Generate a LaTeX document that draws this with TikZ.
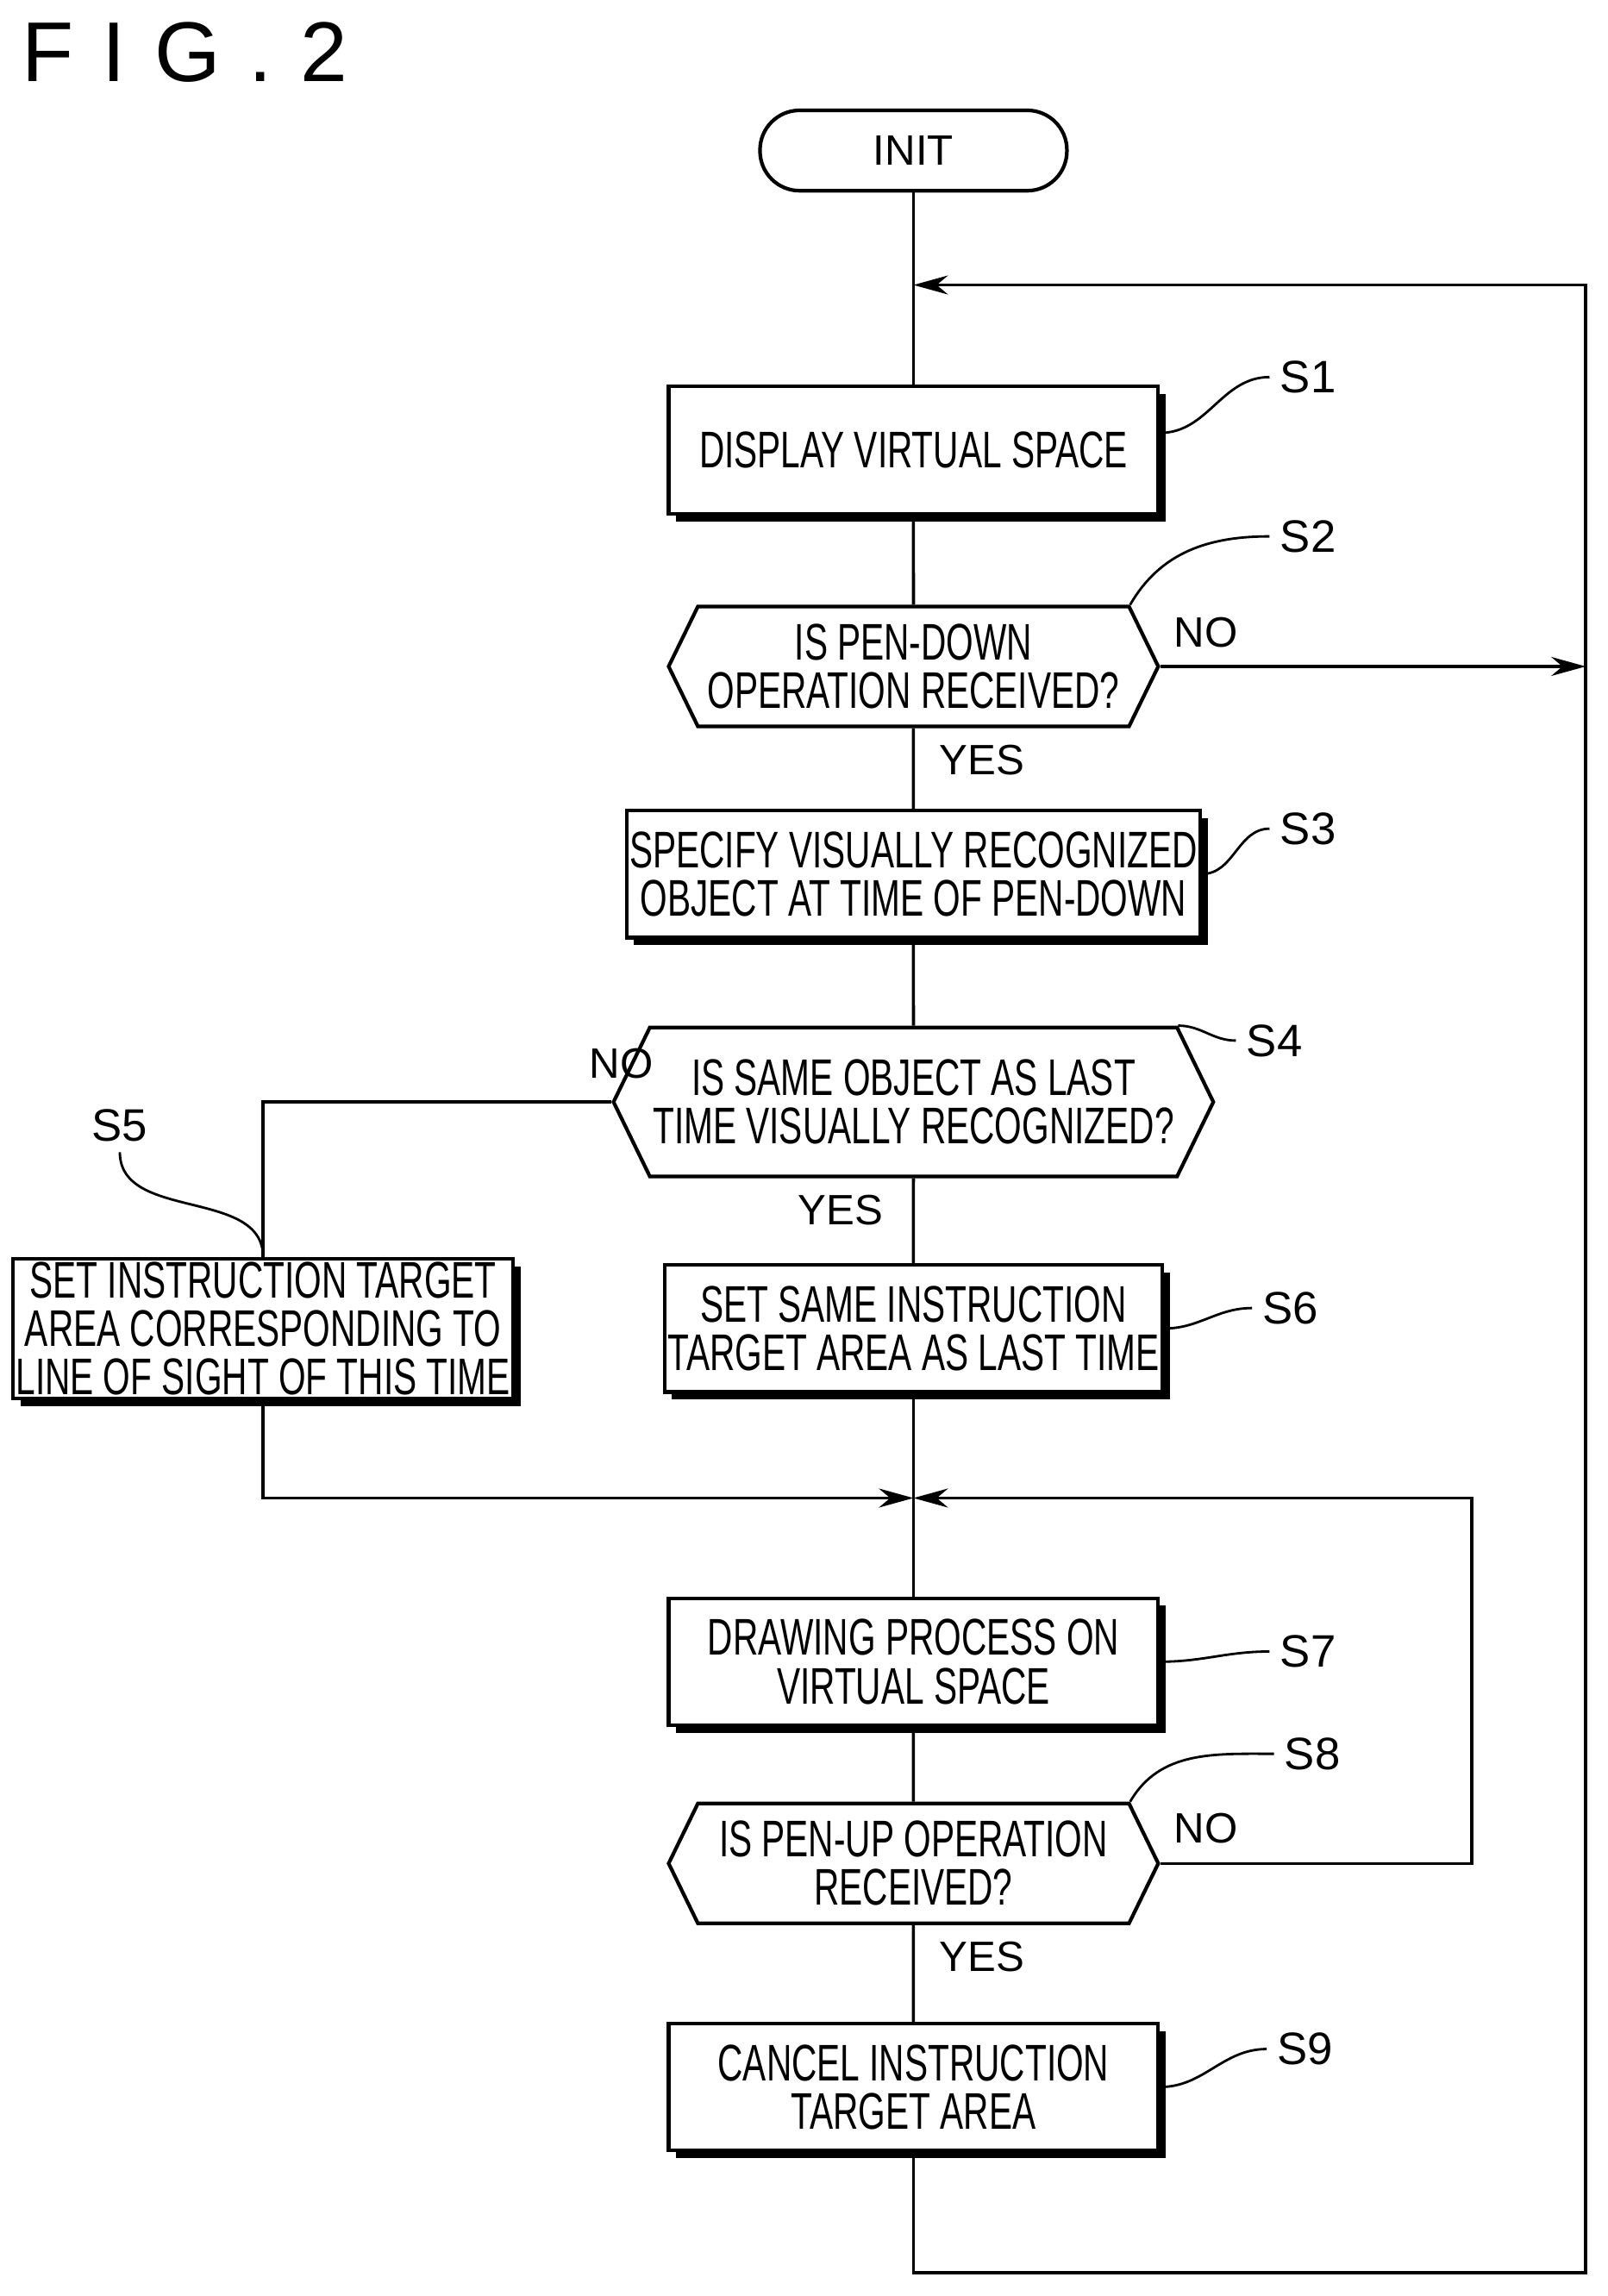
\documentclass[tikz,border=0pt]{standalone}
\usepackage{fontspec}
\setmainfont{Liberation Sans}
\newfontfamily\condfont[FakeStretch=0.68]{Liberation Sans}
\usetikzlibrary{arrows.meta,positioning,shapes.geometric,shapes.symbols,shadows}

\tikzset{
    stepbox/.style={rectangle, draw, line width=1.2pt, fill=white, minimum width={335*0.1695mm}, minimum height={87*0.1695mm}, align=center, inner sep=1pt, font=\condfont\fontsize{17}{16}\selectfont, drop shadow={shadow xshift=2.5pt, shadow yshift=-2.5pt, fill=black, opacity=1}},
    decide/.style={signal, signal to=east and west, signal pointer angle=128, draw, line width=1.2pt, fill=white, minimum width={335*0.1695mm}, minimum height={82*0.1695mm}, align=center, inner sep=1pt, font=\condfont\fontsize{17}{16}\selectfont},
    term/.style={rectangle, rounded corners=4.6mm, draw, line width=1.2pt, minimum width={210*0.1695mm}, minimum height={55*0.1695mm}, font=\fontsize{14}{16}\selectfont},
    tag/.style={font=\fontsize{15}{17}\selectfont},
    answer/.style={font=\fontsize{14}{16}\selectfont},
    line/.style={line width=1pt},
    arrow/.style={line, -{Stealth[length=4mm, width=2.2mm]}},
    lead/.style={line width=0.8pt}
}

\begin{document}
\begin{tikzpicture}[x=0.1695mm, y=-0.1695mm]
\useasboundingbox (0,0) rectangle (1100,1571);

% Title
\node[anchor=north west, font=\fontsize{28}{30}\selectfont] (title) at (8,8) {F\,\,I\,\,G\,\,.\,\,2};

% Steps
\node[term] (init) at (625,103) {INIT};
\node[stepbox] (s1) at (625,308) {DISPLAY VIRTUAL SPACE};
\node[decide] (s2) at (625,456) {IS PEN-DOWN\\OPERATION RECEIVED?};
\node[stepbox] (s3) at (625,598) {SPECIFY VISUALLY RECOGNIZED\\OBJECT AT TIME OF PEN-DOWN};
\node[decide, minimum height={102*0.1695mm}] (s4) at (625,754) {IS SAME OBJECT AS LAST\\TIME VISUALLY RECOGNIZED?};
\node[stepbox] (s5) at (180,909) {SET INSTRUCTION TARGET\\AREA CORRESPONDING TO\\LINE OF SIGHT OF THIS TIME};
\node[stepbox] (s6) at (625,909) {SET SAME INSTRUCTION\\TARGET AREA AS LAST TIME};
\node[stepbox] (s7) at (625,1137) {DRAWING PROCESS ON\\VIRTUAL SPACE};
\node[decide] (s8) at (625,1275) {IS PEN-UP OPERATION\\RECEIVED?};
\node[stepbox] (s9) at (625,1428) {CANCEL INSTRUCTION\\TARGET AREA};

% Loop corners
\coordinate (loopTop) at (625,195);
\coordinate (loopBot) at (1085,1555);
\coordinate (merge) at (625,1025);
\coordinate (penUp) at (1007,1025);

% Main flow
\draw[line] (init) -- (s1);
\draw[line] (s1) -- (s2);
\draw[line] (s2) -- (s3);
\draw[line] (s3) -- (s4);
\draw[line] (s4) -- (s6);
\draw[line] (s6) -- (s7);
\draw[line] (s7) -- (s8);
\draw[line] (s8) -- (s9);
\draw[arrow] (s9.south) |- (loopBot) |- (loopTop);
\draw[arrow] (s2.east) -- (s2.east -| loopBot);
\draw[line] (s4.west) -| (s5.north);
\draw[arrow] (s5.south) |- (merge);
\draw[arrow] (s8.east) -| (penUp) -- (merge);

% Answers
\node[answer] (no2) at (825,433) {NO};
\node[answer] (yes2) at (672,520) {YES};
\node[answer] (no4) at (425,728) {NO};
\node[answer] (yes4) at (575,828) {YES};
\node[answer] (no8) at (825,1251) {NO};
\node[answer] (yes8) at (672,1339) {YES};

% Step tags
\node[tag] (t1) at (895,258) {S1};
\node[tag] (t2) at (895,367) {S2};
\node[tag] (t3) at (895,567) {S3};
\node[tag] (t4) at (872,712) {S4};
\node[tag] (t5) at (82,770) {S5};
\node[tag] (t6) at (883,895) {S6};
\node[tag] (t7) at (895,1130) {S7};
\node[tag] (t8) at (898,1200) {S8};
\node[tag] (t9) at (893,1402) {S9};

\draw[lead] ([yshift=2mm]s1.east) to[out=0, in=180] (t1.west);
\draw[lead] (s2.north east) to[out=60, in=180] (t2.west);
\draw[lead] (s3.east) to[out=0, in=180] (t3.west);
\draw[lead] (s4.north east) to[out=0, in=180] (t4.west);
\draw[lead] (s5.north) to[out=90, in=-90] (t5.south);
\draw[lead] (s6.east) to[out=0, in=180] (t6.west);
\draw[lead] (s7.east) to[out=0, in=180] (t7.west);
\draw[lead] (s8.north east) to[out=60, in=180] (t8.west);
\draw[lead] (s9.east) to[out=0, in=180] (t9.west);
\end{tikzpicture}
\end{document}
